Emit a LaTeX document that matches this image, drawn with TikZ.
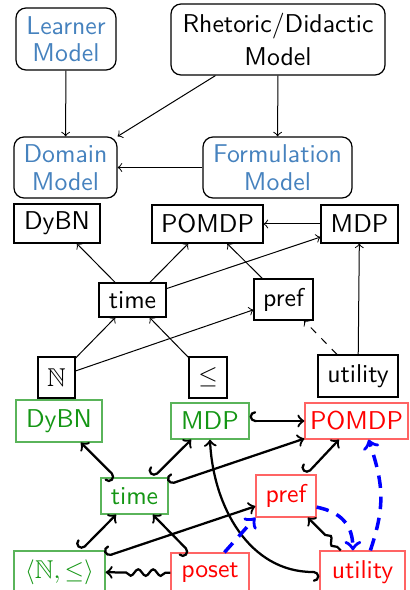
\documentclass[tikz,border=0pt]{standalone}
\usepackage{amssymb}
\usetikzlibrary{arrows,decorations.pathmorphing}
\definecolor{modelblue}{RGB}{70,130,190}
\definecolor{grtext}{RGB}{20,150,20}
\definecolor{grline}{RGB}{90,180,90}
\definecolor{rdtext}{RGB}{255,0,0}
\definecolor{rdline}{RGB}{255,100,100}
\definecolor{dashblue}{RGB}{0,0,255}

\begin{document}
\begin{tikzpicture}[x=0.4pt,y=-0.4pt,
  font=\sffamily\fontsize{10.3}{11}\selectfont,
  model/.style={draw, rounded corners=4pt, align=center, inner sep=0pt, line width=0.5pt},
  plainbox/.style={draw, inner sep=0pt, line width=0.45pt},
  gbox/.style={draw=grline, text=grtext, inner sep=0pt, line width=0.5pt},
  rbox/.style={draw=rdline, text=rdtext, inner sep=0pt, line width=0.5pt},
  thinarrow/.style={->, line width=0.4pt},
  hk/.style={right hook->, line width=0.9pt},
  bluedash/.style={->, draw=dashblue, line width=1.4pt, dash pattern=on 5pt off 3.5pt},
  wig/.style={->, line width=0.9pt, decorate,
    decoration={snake, amplitude=1.3pt, segment length=6pt, pre length=2pt, post length=7pt}},
]
\useasboundingbox (0,0) rectangle (410,590);

% --- model layer ---
\node[model, text=modelblue, minimum width=40pt, minimum height=24.8pt] (learner) at (66,39) {Learner\\Model};
\node[model, minimum width=85.6pt, minimum height=28.4pt] (rhet) at (278,39.5) {Rhetoric/Didactic\\[2.2pt]Model};
\node[model, text=modelblue, minimum width=41.2pt, minimum height=24.4pt] (domain) at (65.5,167.5) {Domain\\Model};
\node[model, text=modelblue, minimum width=59.6pt, minimum height=24.4pt] (form) at (277.5,167.5) {Formulation\\Model};

\draw[thinarrow] (learner) -- (domain);
\draw[thinarrow] (rhet.210.6) -- (domain.north east);
\draw[thinarrow] (rhet) -- (form);
\draw[thinarrow] (form) -- (domain);

% --- plain dependency layer ---
\node[plainbox, minimum width=34.4pt, minimum height=15.6pt] (dybn1) at (57,223.5) {DyBN};
\node[plainbox, minimum width=44.4pt, minimum height=15.2pt] (pomdp1) at (207.5,224) {POMDP};
\node[plainbox, minimum width=30.8pt, minimum height=15.2pt] (mdp1) at (359.5,224) {MDP};
\node[plainbox, minimum width=26.8pt, minimum height=13.6pt] (time1) at (132.5,300) {time};
\node[plainbox, minimum width=23.6pt, minimum height=16.4pt] (pref1) at (283.5,299.5) {pref};
\node[plainbox, minimum width=14.8pt, minimum height=16.4pt] (n1) at (56.5,377.5) {$\mathbb{N}$};
\node[plainbox, minimum width=15.2pt, minimum height=16.4pt] (leq1) at (208,377.5) {$\leq$};
\node[plainbox, minimum width=32pt, minimum height=16.8pt] (util1) at (358,376) {utility};

\draw[thinarrow] (mdp1) -- (pomdp1);
\draw[thinarrow] (time1) -- (dybn1);
\draw[thinarrow] (time1) -- (pomdp1);
\draw[thinarrow] (time1) -- (mdp1);
\draw[thinarrow] (pref1) -- (pomdp1);
\draw[thinarrow] (n1) -- (time1);
\draw[thinarrow] (n1) -- (pref1);
\draw[thinarrow] (leq1) -- (time1);
\draw[thinarrow, dashed] (util1) -- (pref1);
\draw[thinarrow] (util1) -- (mdp1);

% --- coloured layer ---
\node[gbox, minimum width=34.4pt, minimum height=16.8pt] (dybn2) at (59,421) {DyBN};
\node[gbox, minimum width=31.2pt, minimum height=14.4pt] (mdp2) at (210,421) {MDP};
\node[rbox, minimum width=41.2pt, minimum height=14.4pt] (pomdp2) at (356.5,421) {POMDP};
\node[gbox, minimum width=26.8pt, minimum height=14.4pt] (time2) at (134.5,496) {time};
\node[rbox, minimum width=24pt, minimum height=16.8pt] (pref2) at (286,496) {pref};
\node[gbox, minimum width=36.4pt, minimum height=16.8pt] (nleq) at (59.5,572) {$\langle\mathbb{N},\leq\rangle$};
\node[rbox, minimum width=31.2pt, minimum height=16pt] (poset) at (210,573) {poset};
\node[rbox, minimum width=34pt, minimum height=16.8pt] (util2) at (362.5,572) {utility};

\draw[hk] (mdp2) -- (pomdp2);
\draw[hk] (time2) -- (dybn2);
\draw[hk] (time2) -- (mdp2);
\draw[hk] (time2) -- (pomdp2);
\draw[hk] (pref2) -- (pomdp2);
\draw[hk] (nleq) -- (time2);
\draw[hk] (nleq) -- (pref2);
\draw[hk] (poset) -- (time2);
\draw[wig] (poset) -- (nleq);
\draw[wig] (util2) -- (pref2);
\draw[hk] (util2.west) .. controls +(-70,0) and +(3,67) .. (mdp2.south);

\draw[bluedash] (pref2.-20) .. controls +(25,5) and +(0,-25) .. (util2.114);
\draw[bluedash] (poset.55) -- (pref2.south west);
\draw[bluedash] (util2.70) .. controls +(15,-45) and +(15,45) .. (pomdp2.-57);
\end{tikzpicture}
\end{document}
